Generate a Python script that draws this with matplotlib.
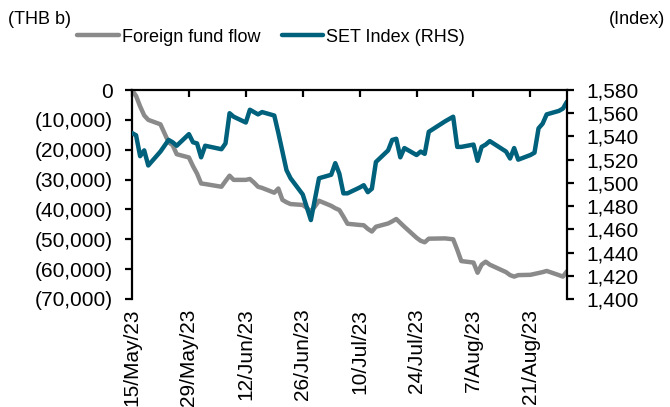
import matplotlib
matplotlib.use("Agg")
import matplotlib.pyplot as plt
import matplotlib.dates as mdates
from matplotlib.ticker import FuncFormatter, FixedLocator
import pandas as pd

plt.rcParams['font.family'] = ['Liberation Sans', 'DejaVu Sans']

dates = [
    "2023-05-15", "2023-05-16", "2023-05-17", "2023-05-18", "2023-05-19",
    "2023-05-22", "2023-05-23", "2023-05-24", "2023-05-25", "2023-05-26",
    "2023-05-29", "2023-05-30", "2023-05-31",
    "2023-06-01", "2023-06-02", "2023-06-06", "2023-06-07", "2023-06-08", "2023-06-09",
    "2023-06-12", "2023-06-13", "2023-06-14", "2023-06-15", "2023-06-16",
    "2023-06-19", "2023-06-20", "2023-06-21", "2023-06-22", "2023-06-23",
    "2023-06-26", "2023-06-27", "2023-06-28", "2023-06-29", "2023-06-30",
    "2023-07-03", "2023-07-04", "2023-07-05", "2023-07-06", "2023-07-07",
    "2023-07-10", "2023-07-11", "2023-07-12", "2023-07-13", "2023-07-14",
    "2023-07-17", "2023-07-18", "2023-07-19", "2023-07-20", "2023-07-21",
    "2023-07-24", "2023-07-25", "2023-07-26", "2023-07-27", "2023-07-31",
    "2023-08-02", "2023-08-03", "2023-08-04",
    "2023-08-07", "2023-08-08", "2023-08-09", "2023-08-10", "2023-08-11",
    "2023-08-15", "2023-08-16", "2023-08-17", "2023-08-18",
    "2023-08-21", "2023-08-22", "2023-08-23", "2023-08-24", "2023-08-25",
    "2023-08-28", "2023-08-29", "2023-08-30",
]

foreign_fund_flow = [
    0, -2000, -5500, -8500, -10000, -11500, -14500, -17500, -18500, -21500, -22600, -25500, -28000,
    -31300, -31500, -32400, -30500, -28700, -30100, -30100, -29800, -31000, -32400, -32800,
    -34400, -33000, -36800, -37600, -38200, -38500, -39500, -40700, -39000, -37100,
    -38800, -39600, -40200, -42400, -44800, -45200, -45300, -46500, -47400, -45800,
    -44700, -44000, -43200, -44500, -45800, -49500, -50500, -51000, -49800, -49700,
    -50000, -53500, -57300, -57800, -61200, -58500, -57500, -58500, -61000, -62000,
    -62500, -62000, -61900, -61600, -61300, -61000, -60600, -62000, -62500, -60700,
]

set_index = [
    1543, 1541, 1523, 1528, 1515, 1527, 1532, 1537, 1535, 1532, 1542, 1535, 1534,
    1522, 1532, 1529, 1534, 1560, 1557, 1552, 1563, 1561, 1559, 1561,
    1558, 1543, 1527, 1511, 1504, 1490, 1479, 1468, 1486, 1504,
    1507, 1517, 1508, 1491, 1491, 1496, 1498, 1492, 1495, 1518,
    1528, 1537, 1538, 1522, 1530, 1524, 1527, 1525, 1544, 1553,
    1557, 1531, 1531, 1533, 1519, 1531, 1533, 1536, 1527, 1521,
    1530, 1520, 1524, 1526, 1547, 1551, 1559, 1562, 1564, 1570,
]

tick_dates = ["2023-05-15", "2023-05-29", "2023-06-12", "2023-06-26",
              "2023-07-10", "2023-07-24", "2023-08-07", "2023-08-21"]
left_ticks = [0, -10000, -20000, -30000, -40000, -50000, -60000, -70000]
right_ticks = [1400, 1420, 1440, 1460, 1480, 1500, 1520, 1540, 1560, 1580]

x = pd.to_datetime(dates)
xt = pd.to_datetime(tick_dates)

GRAY = "#8a8a8a"
TEAL = "#00617c"
LW_SPINE = 1.6

fig = plt.figure(figsize=(6.70, 4.07), dpi=100)
ax = fig.add_axes([132/670, 1-299/407, (567-132)/670, (299-90)/407])
ax2 = ax.twinx()

l1, = ax.plot(x, foreign_fund_flow, color=GRAY, lw=3.2, solid_capstyle='round',
              solid_joinstyle='round', label="Foreign fund flow")
l2, = ax2.plot(x, set_index, color=TEAL, lw=3.2, solid_capstyle='round',
               solid_joinstyle='round', label="SET Index (RHS)")

ax.set_xlim(pd.Timestamp("2023-05-15"), pd.Timestamp("2023-08-30"))
ax.set_ylim(-70000, 0)
ax2.set_ylim(1400, 1580)

ax.xaxis.set_major_locator(FixedLocator(mdates.date2num(xt)))
ax.xaxis.set_major_formatter(FuncFormatter(
    lambda v, p: (lambda d: f"{d.day}/{d.strftime('%b')}/{d.strftime('%y')}")(mdates.num2date(v))))

def fmt_left(v, p):
    v = int(round(v))
    if v == 0:
        return "0"
    if v < 0:
        return f"({abs(v):,})"
    return f"{v:,}"

ax.yaxis.set_major_locator(FixedLocator(left_ticks))
ax.yaxis.set_major_formatter(FuncFormatter(fmt_left))
ax2.yaxis.set_major_locator(FixedLocator(right_ticks))
ax2.yaxis.set_major_formatter(FuncFormatter(lambda v, p: f"{int(round(v)):,}"))

for a in (ax, ax2):
    a.spines['bottom'].set_visible(False)
    for s in ('top', 'left', 'right'):
        a.spines[s].set_linewidth(LW_SPINE)
        a.spines[s].set_color('black')
ax.spines['right'].set_visible(False)
ax2.spines['left'].set_visible(False)
ax2.spines['top'].set_visible(False)

ax.tick_params(axis='x', top=True, bottom=False, labelbottom=True, labeltop=False,
               direction='in', length=5, width=LW_SPINE, pad=7, labelsize=15,
               labelrotation=90)
ax.tick_params(axis='y', direction='out', length=5, width=LW_SPINE, pad=9, labelsize=15)
ax2.tick_params(axis='y', direction='out', length=5, width=LW_SPINE, pad=9, labelsize=15)

fig.text(8/670, 1-19/407, "(THB b)", fontsize=13, va='center', ha='left')
fig.text(665/670, 1-19/407, "(Index)", fontsize=13, va='center', ha='right')

fig.legend(handles=[l1, l2], loc='center', bbox_to_anchor=(271/670, 1-37/407),
           ncol=2, frameon=False, fontsize=13, handlelength=2.3, handletextpad=0.15,
           columnspacing=1.2, borderpad=0, borderaxespad=0)

fig.savefig("out.png", dpi=100)
